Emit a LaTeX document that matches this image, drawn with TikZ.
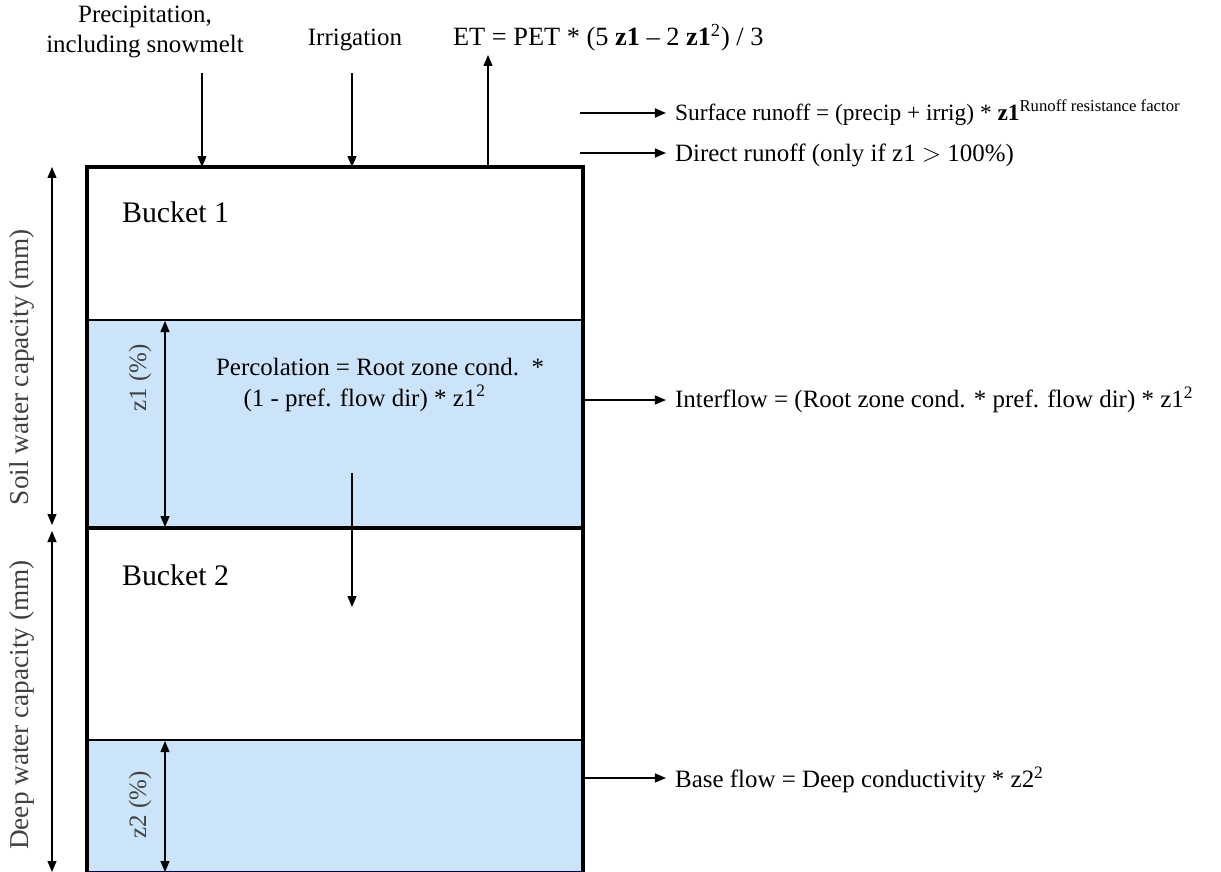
\documentclass[tikz,border=0pt]{standalone}
\usepackage{fontspec}
\setmainfont{Liberation Serif}
\usetikzlibrary{positioning,arrows.meta}
\definecolor{water}{RGB}{204,228,249}
\tikzset{
  txt/.style={inner sep=1pt, font=\fontsize{14.2}{17.5}\selectfont},
  flow/.style={-{Triangle[length=2.2mm,width=1.8mm]}, line width=0.7pt},
  dim/.style={{Triangle[length=2.2mm,width=1.8mm]}-{Triangle[length=2.2mm,width=1.8mm]}, line width=0.6pt},
  sidelbl/.style={txt, rotate=90, text=black!75},
  bucketlbl/.style={txt, anchor=west, font=\fontsize{17}{20}\selectfont}
}
\begin{document}
\begin{tikzpicture}[x=0.02cm, y=-0.02cm]
            \useasboundingbox (0,0) rectangle (1221,872);
            % water levels
            \fill[water] (87,320) rectangle (583,528);
            \fill[water] (87,740) rectangle (583,872);
            \draw[line width=0.8pt] (87,320) -- (583,320) (87,740) -- (583,740);
            % buckets
            \draw[line width=2.8pt] (87,872) -- (87,167) -- (583,167) -- (583,872);
            \draw[line width=2.8pt] (87,528) -- (583,528);
            \draw[line width=1.2pt, black!70!blue] (87,872) -- (583,872);
            \node[bucketlbl] (b1) at (120,212) {Bucket 1};
            \node[bucketlbl] (b2) at (120,575) {Bucket 2};
            % inputs
            \node[txt, align=center] (precip) at (145,32) {Precipitation,\\including snowmelt};
            \node[txt] (irrig) at (355,40) {Irrigation};
            \node[txt, anchor=west, font=\fontsize{15}{18}\selectfont] (et) at (451,38) {ET = PET * (5 \textbf{z1} -- 2 \textbf{z1}\textsuperscript{2}) / 3};
            \coordinate (p0) at (202,73);  \coordinate (p1) at (202,167);
            \coordinate (i0) at (352,73);  \coordinate (i1) at (352,167);
            \coordinate (e0) at (488,167); \coordinate (e1) at (488,55);
            \draw[flow] (p0) -- (p1);
            \draw[flow] (i0) -- (i1);
            \draw[flow] (e0) -- (e1);
            % outflows
            \node[txt, anchor=west, font=\fontsize{13.3}{16}\selectfont] (surf) at (673,113) {Surface runoff = (precip + irrig) * \textbf{z1}\textsuperscript{\fontsize{9.5}{10}\selectfont Runoff resistance factor}};
            \node[txt, anchor=west] (direct) at (673,155) {Direct runoff (only if z1 $>$ 100\%)};
            \node[txt, anchor=west] (inter) at (673,400) {Interflow = (Root zone cond. * pref. flow dir) * z1\textsuperscript{2}};
            \node[txt, anchor=west] (base) at (673,780) {Base flow = Deep conductivity * z2\textsuperscript{2}};
            \coordinate (s0) at (580,113);
            \coordinate (d0) at (580,153);
            \coordinate (n0) at (583,400);
            \coordinate (f0) at (583,778);
            \draw[flow, line width=1pt, shorten >=4pt] (s0) -- (s0 -| surf.west);
            \draw[flow, shorten >=4pt] (d0) -- (d0 -| direct.west);
            \draw[flow, shorten >=4pt] (n0) -- (n0 -| inter.west);
            \draw[flow, shorten >=4pt] (f0) -- (f0 -| base.west);
            % percolation
            \node[txt, align=left, anchor=north west] (perc) at (214,356) {Percolation = Root zone cond.\ \ *\\\hspace{1.1em}(1 - pref. flow dir) * z1\textsuperscript{2}};
            \coordinate (c0) at (352,473);
            \coordinate (c1) at (352,607);
            \draw[flow] (c0) -- (c1);
            % levels
            \coordinate (z1t) at (165,321); \coordinate (z1b) at (165,527);
            \coordinate (z2t) at (165,741); \coordinate (z2b) at (165,872);
            \draw[dim] (z1t) -- (z1b);
            \draw[dim] (z2t) -- (z2b);
            \node[sidelbl] (z1) at (140,378) {z1 (\%)};
            \node[sidelbl] (z2) at (140,805) {z2 (\%)};
            % capacities
            \coordinate (s1) at (52,167); \coordinate (s2) at (52,525);
            \coordinate (d1) at (52,531); \coordinate (d2) at (52,872);
            \draw[dim] (s1) -- (s2);
            \draw[dim] (d1) -- (d2);
            \node[sidelbl, font=\fontsize{15.5}{18}\selectfont] (soil) at (22,367) {Soil water capacity (mm)};
            \node[sidelbl, font=\fontsize{15.5}{18}\selectfont] (deep) at (22,705) {Deep water capacity (mm)};
    \end{tikzpicture}
\end{document}
